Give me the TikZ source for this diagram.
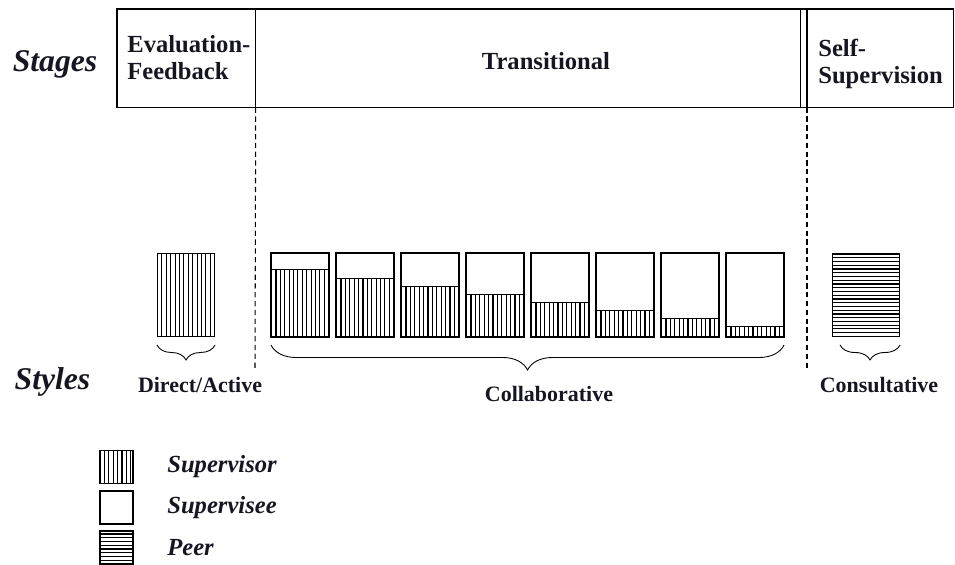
\documentclass[tikz,border=0pt]{standalone}
\usepackage{fontspec}
\setmainfont{Liberation Serif}
\usetikzlibrary{positioning,decorations.pathreplacing}

\definecolor{ink}{RGB}{22,22,34}

\tikzset{
  cell/.style={inner sep=0pt, minimum height=1.96cm, anchor=north west},
  bar/.style={draw, line width=0.6pt, inner sep=0pt, minimum width=1.14cm, minimum height=1.66cm, anchor=south west},
  suphatch/.style={path picture={
      \foreach \k in {1,...,13}
      {
        \draw[line width=0.65pt] ([xshift=\k*0.088cm]path picture bounding box.south west) -- ([xshift=\k*0.088cm]path picture bounding box.north west);
      }}},
  peerhatch/.style={path picture={
      \foreach \k in {1,...,23}
      {
        \draw[line width=0.6pt] ([yshift=\k*0.075cm]path picture bounding box.south west) -- ([yshift=\k*0.075cm]path picture bounding box.south east);
      }}},
  brc/.style={decorate, decoration={brace, mirror, amplitude=#1}, line width=0.5pt},
  head/.style={font=\fontsize{14}{15.5}\selectfont\bfseries, text=ink, align=left, inner sep=0pt},
  lbl/.style={font=\fontsize{12.5}{14}\selectfont\bfseries, text=ink},
  side/.style={font=\fontsize{18}{20}\selectfont\bfseries\itshape, text=ink},
  key/.style={font=\fontsize{14}{16}\selectfont\bfseries\itshape, text=ink, anchor=west, inner sep=0pt},
  legbox/.style={draw, line width=0.6pt, inner sep=0pt, minimum size=0.66cm},
}

\begin{document}
\begin{tikzpicture}
\useasboundingbox (0,0) rectangle (19.1,11.28);

% stage header
\node[cell, minimum width=2.76cm] (evalcell) at (2.34,11.1) {};
\node[cell, minimum width=10.9cm] (transcell) at (5.10,11.1) {};
\node[cell, minimum width=2.92cm] (selfcell) at (16.14,11.1) {};
\draw[line width=0.8pt] (evalcell.north west) rectangle (selfcell.south east);
\draw[line width=0.8pt] (evalcell.north east) -- (evalcell.south east);
\draw[line width=0.8pt] (transcell.north east) -- (transcell.south east);
\draw[line width=0.8pt] (selfcell.north west) -- (selfcell.south west);
\node[head, anchor=west] (evaltxt) at (2.54,10.13) {Evaluation-\\Feedback};
\node[head] (transtxt) at (10.92,10.06) {Transitional};
\node[head, anchor=west] (selftxt) at (16.36,10.0) {Self-\\Supervision};

\node[side] (stages) at (1.1,10.0) {Stages};
\node[side] (styles) at (1.05,3.64) {Styles};

% dashed dividers
\coordinate (dl) at (5.10,3.88);
\coordinate (dr) at (16.14,3.88);
\draw[densely dashed, line width=0.6pt] (evalcell.south east) -- (dl);
\draw[densely dashed, line width=0.6pt] (selfcell.south west) -- (dr);

% direct/active
\node[bar, suphatch] (direct) at (3.14,4.54) {};
\draw[brc=0.3cm] ([yshift=-0.16cm]direct.south west) -- ([yshift=-0.16cm]direct.south east);
\node[lbl] (directtxt) at (4.0,3.58) {Direct/Active};

% collaborative
\foreach \i in {0,...,7}
{
    \pgfmathsetmacro{\h}{0.18+(7-\i)*0.163}
    \node[bar] (c\i) at (5.42+1.3*\i,4.54) {};
    \node[bar, draw=none, suphatch, minimum height=\h cm] (s\i) at (5.42+1.3*\i,4.54) {};
    \draw[line width=0.6pt] (s\i.north west) -- (s\i.north east);
    \draw[line width=0.6pt] (c\i.south west) rectangle (c\i.north east);
}
\draw[brc=0.5cm] ([yshift=-0.16cm]c0.south west) -- ([yshift=-0.16cm]c7.south east);
\node[lbl] (collabtxt) at (10.98,3.4) {Collaborative};

% consultative
\node[bar, peerhatch, minimum width=1.34cm] (consult) at (16.64,4.54) {};
\draw[brc=0.3cm] ([xshift=0.16cm, yshift=-0.16cm]consult.south west) -- ([yshift=-0.16cm]consult.south east);
\node[lbl] (consulttxt) at (17.58,3.58) {Consultative};

% legend
\node[legbox, suphatch] (keysup) at (2.33,1.94) {};
\node[key] (keysuptxt) at (3.34,1.94) {Supervisor};
\node[legbox] (keysee) at (2.33,1.13) {};
\node[key] (keyseetxt) at (3.34,1.13) {Supervisee};
\node[legbox, peerhatch] (keypeer) at (2.33,0.33) {};
\node[key] (keypeertxt) at (3.34,0.33) {Peer};
\end{tikzpicture}
\end{document}
